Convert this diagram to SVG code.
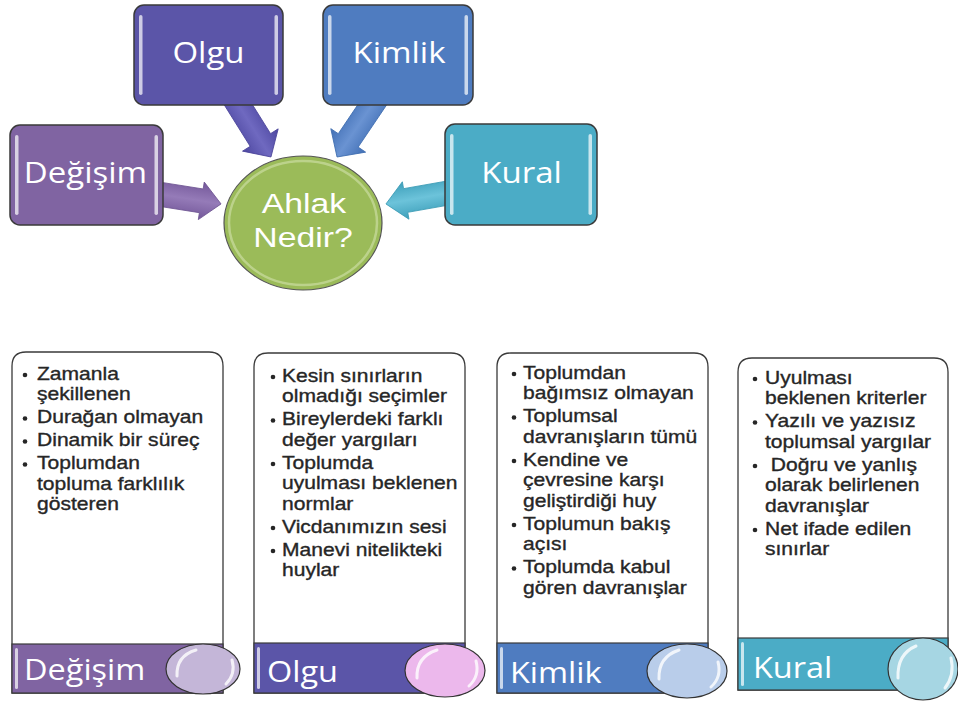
<svg xmlns="http://www.w3.org/2000/svg" width="958" height="705" viewBox="0 0 958 705">
<defs>
<style>
.box{stroke:#3a3a3a;stroke-width:1.5}
.hl{fill:#ffffff;opacity:0.7}
.lbl{font-family:"Open Sans","Liberation Sans",sans-serif;font-size:30px;fill:#ffffff;text-anchor:middle}
.clbl{font-family:"Liberation Sans","Open Sans",sans-serif;font-size:27px;fill:#ffffff;text-anchor:middle}
.blbl{font-family:"Open Sans","Liberation Sans",sans-serif;font-size:29px;fill:#ffffff}
.body{font-family:"Liberation Sans","Open Sans",sans-serif;font-size:18px;fill:#262626;stroke:#262626;stroke-width:0.35}
.card{fill:#ffffff;stroke:#3a3a3a;stroke-width:1.3}
.band{stroke:#3a3a3a;stroke-width:1.2}
.bul{fill:#262626}
.orb{stroke:#333333;stroke-width:1.2}
.shine{fill:none;stroke:#ffffff;stroke-width:3;stroke-linecap:round;opacity:0.8}
.arrow{stroke-width:0.8}
</style>
<linearGradient id="gOlgu" x1="0" y1="0" x2="0" y2="1"><stop offset="0" stop-color="#4d47a0"/><stop offset="0.5" stop-color="#6f69c0"/><stop offset="1" stop-color="#4d47a0"/></linearGradient>
<linearGradient id="gKim" x1="0" y1="0" x2="0" y2="1"><stop offset="0" stop-color="#416fb5"/><stop offset="0.5" stop-color="#6a93d2"/><stop offset="1" stop-color="#416fb5"/></linearGradient>
<linearGradient id="gDeg" x1="0" y1="0" x2="0" y2="1"><stop offset="0" stop-color="#735799"/><stop offset="0.5" stop-color="#957bb8"/><stop offset="1" stop-color="#735799"/></linearGradient>
<linearGradient id="gKur" x1="0" y1="0" x2="0" y2="1"><stop offset="0" stop-color="#3d9fba"/><stop offset="0.5" stop-color="#6cc3da"/><stop offset="1" stop-color="#3d9fba"/></linearGradient>
</defs>

<g id="connectors">
<polygon class="arrow" fill="url(#gOlgu)" stroke="#4a449a" transform="translate(232.8,95.9) rotate(58)" points="0,-12 52,-12 52,-21 72,0 52,21 52,12 0,12"/>
<polygon class="arrow" fill="url(#gKim)" stroke="#3f6db0" transform="translate(377.3,97.3) rotate(124)" points="0,-12 52,-12 52,-21 72,0 52,21 52,12 0,12"/>
<polygon class="arrow" fill="url(#gDeg)" stroke="#6d5392" transform="translate(151.9,193) rotate(9)" points="0,-12 50,-12 50,-19 70,0 50,19 50,12 0,12"/>
<polygon class="arrow" fill="url(#gKur)" stroke="#3a9ab4" transform="translate(454.9,191.8) rotate(170)" points="0,-12 50,-12 50,-19 70,0 50,19 50,12 0,12"/>
</g>

<g id="node-olgu">
<rect class="box" x="134" y="5" width="149" height="100" rx="10" fill="#5b55a8"/>
<rect class="hl" x="139" y="15" width="3.5" height="80" rx="1.75"/>
<rect class="hl" x="274.5" y="15" width="3.5" height="80" rx="1.75"/>
<text class="lbl" transform="translate(208.5,63) scale(1.1,1)">Olgu</text>
</g>
<g id="node-kimlik">
<rect class="box" x="323" y="5" width="150" height="100" rx="10" fill="#4f7cc0"/>
<rect class="hl" x="328" y="15" width="3.5" height="80" rx="1.75"/>
<rect class="hl" x="464.5" y="15" width="3.5" height="80" rx="1.75"/>
<text class="lbl" transform="translate(399,63) scale(1.1,1)">Kimlik</text>
</g>
<g id="node-degisim">
<rect class="box" x="10" y="125" width="153" height="100" rx="10" fill="#8064a2"/>
<rect class="hl" x="15" y="135" width="3.5" height="80" rx="1.75"/>
<rect class="hl" x="154.5" y="135" width="3.5" height="80" rx="1.75"/>
<text class="lbl" transform="translate(85.5,183) scale(1.1,1)">Değişim</text>
</g>
<g id="node-kural">
<rect class="box" x="445" y="124" width="152" height="101" rx="10" fill="#4bacc6"/>
<rect class="hl" x="450" y="134" width="3.5" height="81" rx="1.75"/>
<rect class="hl" x="588.5" y="134" width="3.5" height="81" rx="1.75"/>
<text class="lbl" transform="translate(521.5,183) scale(1.1,1)">Kural</text>
</g>
<g id="node-ahlak">
<ellipse cx="303" cy="223" rx="79" ry="67" fill="#9bbb59" stroke="#555555" stroke-width="1.2"/>
<ellipse cx="303" cy="223" rx="74" ry="62" fill="none" stroke="#e4f0c8" stroke-width="2.5" opacity="0.45"/>
<text class="clbl" transform="translate(304,213) scale(1.25,1)">Ahlak</text>
<text class="clbl" transform="translate(303,247) scale(1.25,1)">Nedir?</text>
</g>

<g id="card-degisim">
<path class="card" d="M12,693 V366 Q12,352 26,352 H209 Q223,352 223,366 V693 Z"/>
<g class="body" transform="translate(37,0) scale(1.17,1)">
<text x="0" y="380">Zamanla</text>
<text x="0" y="400.5">şekillenen</text>
<text x="0" y="423.5">Durağan olmayan</text>
<text x="0" y="446.5">Dinamik bir süreç</text>
<text x="0" y="469.5">Toplumdan</text>
<text x="0" y="490">topluma farklılık</text>
<text x="0" y="510.5">gösteren</text>
</g>
<circle class="bul" cx="25" cy="375" r="2.3"/>
<circle class="bul" cx="25" cy="418.5" r="2.3"/>
<circle class="bul" cx="25" cy="441.5" r="2.3"/>
<circle class="bul" cx="25" cy="464.5" r="2.3"/>
<rect class="band" x="12" y="644" width="211" height="49" fill="#8064a2"/>
<rect class="hl" x="15" y="648" width="3" height="41" rx="1.5"/>
<text class="blbl" transform="translate(24,680) scale(1.12,1)">Değişim</text>
<ellipse class="orb" cx="203" cy="669" rx="37" ry="25" fill="#c4b6d8"/>
<path class="shine" d="M177,676 Q176,656 196,650"/>
<path class="shine" d="M232,660 Q236,674 226,684" opacity="0.6"/>
</g>

<g id="card-olgu">
<path class="card" d="M254,693 V367 Q254,353 268,353 H451 Q465,353 465,367 V693 Z"/>
<g class="body" transform="translate(282,0) scale(1.17,1)">
<text x="0" y="382">Kesin sınırların</text>
<text x="0" y="402.5">olmadığı seçimler</text>
<text x="0" y="425.5">Bireylerdeki farklı</text>
<text x="0" y="446">değer yargıları</text>
<text x="0" y="469">Toplumda</text>
<text x="0" y="489.5">uyulması beklenen</text>
<text x="0" y="510">normlar</text>
<text x="0" y="533">Vicdanımızın sesi</text>
<text x="0" y="556">Manevi nitelikteki</text>
<text x="0" y="576.5">huylar</text>
</g>
<circle class="bul" cx="273" cy="377" r="2.3"/>
<circle class="bul" cx="273" cy="420.5" r="2.3"/>
<circle class="bul" cx="273" cy="464" r="2.3"/>
<circle class="bul" cx="273" cy="528" r="2.3"/>
<circle class="bul" cx="273" cy="551" r="2.3"/>
<rect class="band" x="254" y="643" width="211" height="50" fill="#5b55a8"/>
<rect class="hl" x="257" y="647" width="3" height="42" rx="1.5"/>
<text class="blbl" transform="translate(267,682) scale(1.12,1)">Olgu</text>
<ellipse class="orb" cx="445" cy="670.5" rx="40" ry="26.5" fill="#ecb8ec"/>
<path class="shine" d="M417,678 Q416,657 437,650"/>
<path class="shine" d="M476,661 Q480,676 469,686" opacity="0.6"/>
</g>

<g id="card-kimlik">
<path class="card" d="M497,693 V367 Q497,353 511,353 H694 Q708,353 708,367 V693 Z"/>
<g class="body" transform="translate(523,0) scale(1.17,1)">
<text x="0" y="379">Toplumdan</text>
<text x="0" y="399.5">bağımsız olmayan</text>
<text x="0" y="422.5">Toplumsal</text>
<text x="0" y="443">davranışların tümü</text>
<text x="0" y="466">Kendine ve</text>
<text x="0" y="486.5">çevresine karşı</text>
<text x="0" y="507">geliştirdiği huy</text>
<text x="0" y="530">Toplumun bakış</text>
<text x="0" y="550.5">açısı</text>
<text x="0" y="573.5">Toplumda kabul</text>
<text x="0" y="594">gören davranışlar</text>
</g>
<circle class="bul" cx="514" cy="374" r="2.3"/>
<circle class="bul" cx="514" cy="417.5" r="2.3"/>
<circle class="bul" cx="514" cy="461" r="2.3"/>
<circle class="bul" cx="514" cy="525" r="2.3"/>
<circle class="bul" cx="514" cy="568.5" r="2.3"/>
<rect class="band" x="497" y="643" width="211" height="50" fill="#4f7cc0"/>
<rect class="hl" x="500" y="647" width="3" height="42" rx="1.5"/>
<text class="blbl" transform="translate(510,683) scale(1.12,1)">Kimlik</text>
<ellipse class="orb" cx="687" cy="671" rx="40" ry="27" fill="#b9cdea"/>
<path class="shine" d="M659,679 Q658,657 679,650"/>
<path class="shine" d="M718,662 Q722,677 711,687" opacity="0.6"/>
</g>

<g id="card-kural">
<path class="card" d="M738,690 V372 Q738,358 752,358 H934 Q948,358 948,372 V690 Z"/>
<g class="body" transform="translate(765,0) scale(1.17,1)">
<text x="0" y="384">Uyulması</text>
<text x="0" y="404.5">beklenen kriterler</text>
<text x="0" y="427.5">Yazılı ve yazısız</text>
<text x="0" y="448">toplumsal yargılar</text>
<text x="5" y="471">Doğru ve yanlış</text>
<text x="0" y="491.5">olarak belirlenen</text>
<text x="0" y="512">davranışlar</text>
<text x="0" y="535">Net ifade edilen</text>
<text x="0" y="555.5">sınırlar</text>
</g>
<circle class="bul" cx="755" cy="379" r="2.3"/>
<circle class="bul" cx="755" cy="422.5" r="2.3"/>
<circle class="bul" cx="755" cy="466" r="2.3"/>
<circle class="bul" cx="755" cy="530" r="2.3"/>
<rect class="band" x="738" y="638" width="210" height="52" fill="#4bacc6"/>
<rect class="hl" x="741" y="642" width="3" height="44" rx="1.5"/>
<text class="blbl" transform="translate(753,678) scale(1.12,1)">Kural</text>
<ellipse class="orb" cx="923" cy="669" rx="35" ry="31" fill="#a6d6e3"/>
<path class="shine" d="M898,678 Q897,654 916,646"/>
<path class="shine" d="M951,658 Q955,675 945,688" opacity="0.6"/>
</g>
</svg>
